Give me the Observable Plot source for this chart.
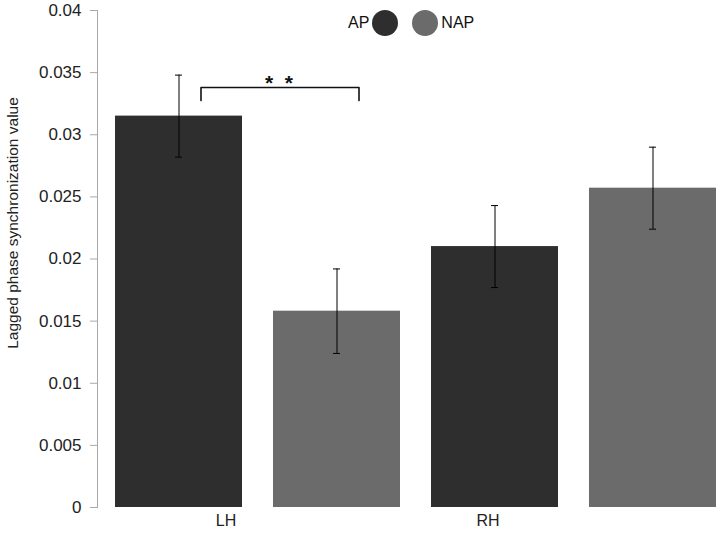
<!DOCTYPE html>
<html>
<head>
<meta charset="utf-8">
<script src="https://cdn.jsdelivr.net/npm/d3@7"></script>
<script src="https://cdn.jsdelivr.net/npm/@observablehq/plot@0.6"></script>
<style>
  html, body { margin: 0; padding: 0; background: #fff; }
  #wrap { position: relative; width: 720px; height: 538px; font-family: "Liberation Sans", Arial, sans-serif; }
  #legend { position: absolute; top: 10px; left: 348px; display: flex; align-items: center; font-size: 16px; color: #111; }
  .sw { display: inline-block; width: 26px; height: 26px; border-radius: 50%; }
</style>
</head>
<body>
<div id="wrap">
  <div id="legend">
    <span>AP</span><span class="sw" style="background:#2e2e2e;margin-left:3px"></span>
    <span class="sw" style="background:#6b6b6b;margin-left:14px"></span><span style="margin-left:3px">NAP</span>
  </div>
</div>
<script>
const groups = ["LH", "LH", "RH", "RH"];
const series = ["AP", "NAP", "AP", "NAP"];
const means  = [0.0315, 0.0158, 0.0210, 0.0257];
const errors = [0.0033, 0.0034, 0.0033, 0.0033];
const seriesNames = ["AP", "NAP"];
const seriesColors = ["#2e2e2e", "#6b6b6b"];
const yTicks = [0, 0.005, 0.01, 0.015, 0.02, 0.025, 0.03, 0.035, 0.04];
const yLabel = "Lagged phase synchronization value";
const sigText = "*  *";
const bracketLevel = 0.0338;
const bracketTip = 0.03275;

const data = groups.map((g, i) => ({
  key: g + "|" + series[i], group: g, series: series[i],
  mean: means[i], lo: means[i] - errors[i], hi: means[i] + errors[i]
}));
const keys = data.map(d => d.key);
const bracket = [
  {k: "LH|AP", v: bracketTip}, {k: "LH|AP", v: bracketLevel},
  {k: "LH|NAP", v: bracketLevel}, {k: "LH|NAP", v: bracketTip}
];
const font = "Liberation Sans, Arial, sans-serif";

const chart = Plot.plot({
  width: 720, height: 538,
  marginTop: 10, marginBottom: 31, marginLeft: 97, marginRight: 3,
  style: {fontFamily: font, background: "#fff", color: "#111"},
  x: {type: "band", domain: keys, paddingInner: 0.197, paddingOuter: 0, insetLeft: 16, axis: null},
  y: {domain: [0, 0.04], axis: null},
  color: {domain: seriesNames, range: seriesColors},
  marks: [
    Plot.barY(data, {x: "key", y: "mean", fill: "series"}),
    Plot.ruleX(data, {x: "key", y1: "lo", y2: "hi", stroke: "#000", strokeWidth: 1}),
    Plot.tickY(data, {x: "key", y: "lo", stroke: "#000", strokeWidth: 1, insetLeft: 60, insetRight: 60}),
    Plot.tickY(data, {x: "key", y: "hi", stroke: "#000", strokeWidth: 1, insetLeft: 60, insetRight: 60}),
    Plot.frame({anchor: "left", stroke: "#a8a8a8"}),
    Plot.axisY({ticks: yTicks, tickFormat: d => String(+d.toFixed(3)), tickSize: 7, tickPadding: 9,
      fontSize: 17, stroke: "#a8a8a8", color: "#222", label: null}),
    Plot.text([yLabel], {frameAnchor: "left", textAnchor: "middle", text: d => d, rotate: -90, dx: -84, dy: -36, fontSize: 15.5, fill: "#222"}),
    Plot.line(bracket, {x: "k", y: "v", dx: 22, stroke: "#111", strokeWidth: 1.6}),
    Plot.text([sigText], {x: () => "LH|NAP", y: () => bracketLevel, text: d => d, dx: -58, dy: 2, fontSize: 21, fontWeight: "bold", fill: "#111", lineAnchor: "bottom"}),
    Plot.text(["LH"], {x: () => "LH|AP", frameAnchor: "bottom", text: d => d, dx: 47, dy: 7, lineAnchor: "top", fontSize: 16, fill: "#222"}),
    Plot.text(["RH"], {x: () => "RH|AP", frameAnchor: "bottom", text: d => d, dx: -7, dy: 7, lineAnchor: "top", fontSize: 16, fill: "#222"})
  ]
});
document.getElementById("wrap").prepend(chart);
</script>
</body>
</html>
